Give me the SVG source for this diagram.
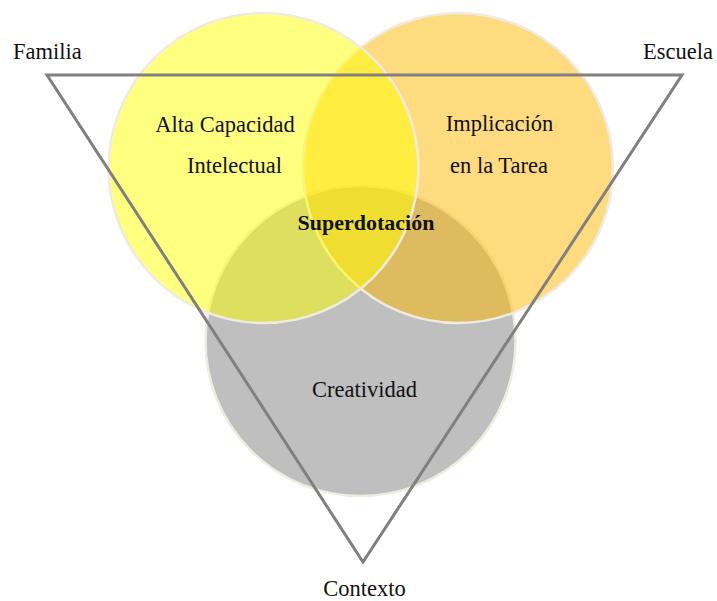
<svg xmlns="http://www.w3.org/2000/svg" width="717" height="601" viewBox="0 0 717 601">
<style>
.c{stroke:#EEECE1;stroke-width:2.5}
.t{font-family:"Liberation Serif","Times New Roman",serif;font-size:22.5px;fill:#111}
.b{font-weight:bold;font-size:22px}
</style>
<rect width="717" height="601" fill="#fff"/>
<g id="creatividad">
<circle class="c" cx="360.5" cy="341" r="155" fill="#BFBFBF"/>
</g>
<g id="implicacion">
<circle class="c" cx="458" cy="168" r="155" fill="#FFB700" fill-opacity="0.5"/>
</g>
<g id="capacidad">
<circle class="c" cx="263.5" cy="168" r="155" fill="#FFFF00" fill-opacity="0.5"/>
</g>
<g id="connectors">
<polygon points="47,75 682,75 363,562" fill="none" stroke="#808080" stroke-width="3"/>
</g>
<g id="labels">
<text class="t" x="225" y="132" text-anchor="middle">Alta Capacidad</text>
<text class="t" x="234.5" y="173" text-anchor="middle">Intelectual</text>
<text class="t" x="499.5" y="131" text-anchor="middle">Implicación</text>
<text class="t" x="499" y="173" text-anchor="middle">en la Tarea</text>
<text class="t b" x="366" y="230" text-anchor="middle">Superdotación</text>
<text class="t" x="364.5" y="397" text-anchor="middle">Creatividad</text>
<text class="t" x="13" y="59">Familia</text>
<text class="t" x="713" y="59" text-anchor="end">Escuela</text>
<text class="t" x="364.5" y="596" text-anchor="middle">Contexto</text>
</g>
</svg>
